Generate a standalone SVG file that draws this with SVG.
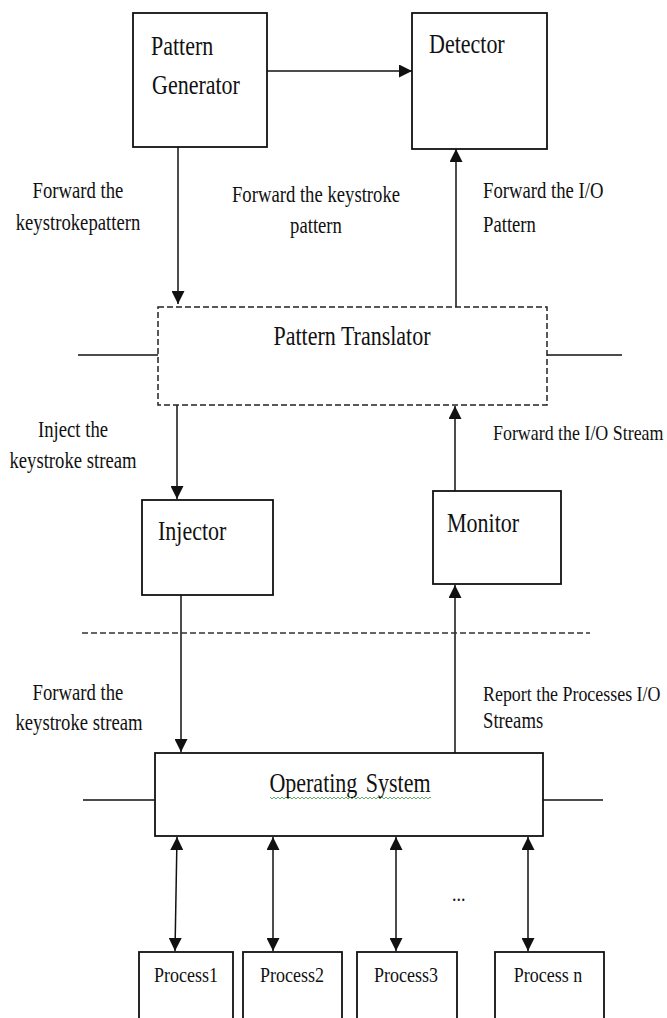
<svg xmlns="http://www.w3.org/2000/svg" width="667" height="1018" viewBox="0 0 667 1018">
<style>
.box{fill:#fff;stroke:#111;stroke-width:1.8}
.dash{fill:#fff;stroke:#222;stroke-width:1.5;stroke-dasharray:6 3}
.ln{fill:none;stroke:#111;stroke-width:1.5}
.t{font-family:"Liberation Serif","Times New Roman",serif;font-size:22px;fill:#111}
.l{font-family:"Liberation Serif","Times New Roman",serif;font-size:18.7px;fill:#111}
.p{font-family:"Liberation Serif","Times New Roman",serif;font-size:18px;fill:#111}
.m{text-anchor:middle}
</style>
<defs>
<marker id="ah" markerUnits="userSpaceOnUse" markerWidth="13" markerHeight="13" refX="13" refY="6.5" orient="auto-start-reverse">
<path d="M0,0 L13,6.5 L0,13 z" fill="#111"/>
</marker>
<pattern id="sq" x="0" y="0" width="4" height="4" patternUnits="userSpaceOnUse">
<path d="M0,3 L2,1 L4,3" fill="none" stroke="#3c9a3c" stroke-width="0.8"/>
</pattern>
</defs>
<rect width="667" height="1018" fill="#fff"/>

<g id="connectors">
<line class="ln" x1="267" y1="71" x2="412" y2="71" marker-end="url(#ah)"/>
<line class="ln" x1="178" y1="147" x2="178" y2="304" marker-end="url(#ah)"/>
<line class="ln" x1="456" y1="307" x2="456" y2="149" marker-end="url(#ah)"/>
<line class="ln" x1="177" y1="405" x2="177" y2="499" marker-end="url(#ah)"/>
<line class="ln" x1="455" y1="491" x2="455" y2="406" marker-end="url(#ah)"/>
<line class="ln" x1="181" y1="595" x2="181" y2="752" marker-end="url(#ah)"/>
<line class="ln" x1="455" y1="753" x2="455" y2="585" marker-end="url(#ah)"/>
<line class="ln" x1="177" y1="837" x2="175" y2="951" marker-start="url(#ah)" marker-end="url(#ah)"/>
<line class="ln" x1="273" y1="837" x2="273" y2="951" marker-start="url(#ah)" marker-end="url(#ah)"/>
<line class="ln" x1="396" y1="837" x2="396" y2="951" marker-start="url(#ah)" marker-end="url(#ah)"/>
<line class="ln" x1="528" y1="837" x2="528" y2="951" marker-start="url(#ah)" marker-end="url(#ah)"/>
<line x1="82" y1="633" x2="590" y2="633" stroke="#333" stroke-width="1.6" stroke-dasharray="6 3"/>
<line class="ln" x1="78" y1="355" x2="158" y2="355"/>
<line class="ln" x1="547" y1="355" x2="622" y2="355"/>
<line class="ln" x1="83" y1="800" x2="155" y2="800"/>
<line class="ln" x1="543" y1="800" x2="603" y2="800"/>
</g>

<g id="labels">
<text class="l m" transform="translate(78,198) scale(1,1.2)">Forward the</text>
<text class="l m" transform="translate(78,230) scale(1,1.2)">keystrokepattern</text>
<text class="l m" transform="translate(316,202) scale(1,1.2)">Forward the keystroke</text>
<text class="l m" transform="translate(316,233) scale(1,1.2)">pattern</text>
<text class="l" transform="translate(483,198) scale(1,1.2)">Forward the I/O</text>
<text class="l" transform="translate(483,232) scale(1,1.2)">Pattern</text>
<text class="l m" transform="translate(73,437) scale(1,1.2)">Inject the</text>
<text class="l m" transform="translate(73,468) scale(1,1.2)">keystroke stream</text>
<text class="l" transform="translate(493,440) scale(1,1.2)" style="font-size:17.9px">Forward the I/O Stream</text>
<text class="l m" transform="translate(78,700) scale(1,1.2)">Forward the</text>
<text class="l m" transform="translate(79,730) scale(1,1.2)">keystroke stream</text>
<text class="l" transform="translate(483,701) scale(1,1.2)" style="font-size:17.9px">Report the Processes I/O</text>
<text class="l" transform="translate(483,728) scale(1,1.2)">Streams</text>
<text class="p" transform="translate(452,901) scale(1,1.2)">...</text>
</g>

<g id="pattern-generator">
<rect class="box" x="133" y="13" width="134" height="134"/>
<text class="t" transform="translate(151,55) scale(1,1.25)">Pattern</text>
<text class="t" transform="translate(152,94) scale(1,1.25)">Generator</text>
</g>

<g id="detector">
<rect class="box" x="412" y="13" width="135" height="136"/>
<text class="t" transform="translate(429,53) scale(1,1.25)">Detector</text>
</g>

<g id="pattern-translator">
<rect class="dash" x="158" y="307" width="389" height="98"/>
<text class="t m" transform="translate(352,345) scale(1,1.25)">Pattern Translator</text>
</g>

<g id="injector">
<rect class="box" x="142" y="500" width="131" height="95"/>
<text class="t" transform="translate(158,540) scale(1,1.25)">Injector</text>
</g>

<g id="monitor">
<rect class="box" x="433" y="491" width="128" height="93"/>
<text class="t" transform="translate(447,532) scale(1,1.25)">Monitor</text>
</g>

<g id="operating-system">
<rect class="box" x="155" y="753" width="388" height="83"/>
<text class="t m" transform="translate(350,792) scale(1,1.25)" word-spacing="3">Operating System</text>
<rect x="270" y="796" width="161" height="4" fill="url(#sq)"/>
</g>

<g id="process1">
<rect class="box" x="139" y="952" width="94" height="90"/>
<text class="p m" transform="translate(186,982) scale(1,1.2)">Process1</text>
</g>
<g id="process2">
<rect class="box" x="243" y="952" width="99" height="90"/>
<text class="p m" transform="translate(292,982) scale(1,1.2)">Process2</text>
</g>
<g id="process3">
<rect class="box" x="357" y="952" width="100" height="90"/>
<text class="p m" transform="translate(406,982) scale(1,1.2)">Process3</text>
</g>
<g id="process-n">
<rect class="box" x="495" y="952" width="109" height="90"/>
<text class="p m" transform="translate(548,982) scale(1,1.2)">Process n</text>
</g>
</svg>
